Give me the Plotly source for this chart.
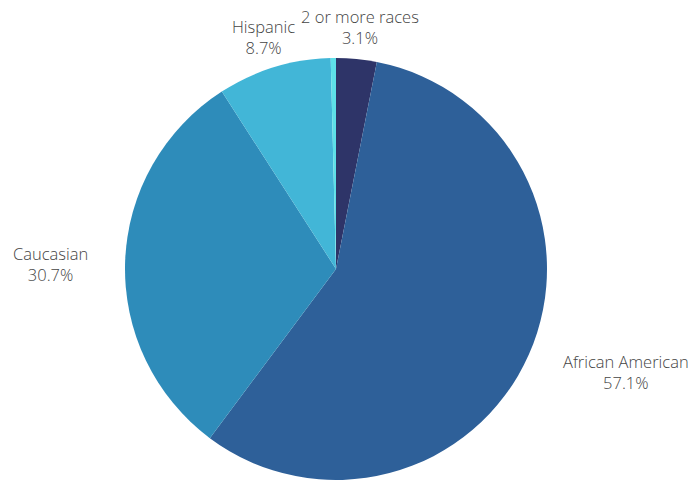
import math
import plotly.graph_objects as go

labels = ["2 or more races", "African American", "Caucasian", "Hispanic", "Other"]
values = [3.1, 57.1, 30.7, 8.7, 0.4]
show_label = [True, True, True, True, False]
colors = ["#2e3468", "#2e6099", "#2e8cba", "#42b6d7", "#5ee0e8"]

W, H = 689, 480
CX, CY, R = 336, 269, 211
LABEL_OFFSET = 35

fig = go.Figure(go.Pie(
    labels=labels,
    values=values,
    sort=False,
    direction="clockwise",
    rotation=0,
    marker=dict(colors=colors, line=dict(width=0)),
    textinfo="none",
    hoverinfo="label+percent",
    domain=dict(x=[(CX - R) / W, (CX + R) / W], y=[(H - CY - R) / H, (H - CY + R) / H]),
    showlegend=False,
))

total = sum(values)
cum = 0.0
annotations = []
for lab, v, show in zip(labels, values, show_label):
    mid = (cum + v / 2) / total * 2 * math.pi
    cum += v
    if not show:
        continue
    s, c = math.sin(mid), math.cos(mid)
    r = R + LABEL_OFFSET
    px = CX + r * s
    py = CY - r * c
    if abs(s) < 0.5:
        xa = "center"
    elif s > 0:
        xa = "left"
    else:
        xa = "right"
    annotations.append(dict(
        x=px / W, y=1 - py / H, xref="paper", yref="paper",
        text=f"{lab}<br>{v / total * 100:.1f}%",
        showarrow=False, xanchor=xa, yanchor="middle", align="center",
        yshift=-3,
        font=dict(family="Open Sans", size=16.5, color="#444444", weight=300),
    ))

fig.update_layout(
    width=W, height=H,
    margin=dict(l=0, r=0, t=0, b=0),
    paper_bgcolor="white",
    annotations=annotations,
)
fig.write_html(
    "out.html",
    config={"displayModeBar": False},
    post_script="document.body.style.margin='0';document.body.style.overflow='hidden';",
)
